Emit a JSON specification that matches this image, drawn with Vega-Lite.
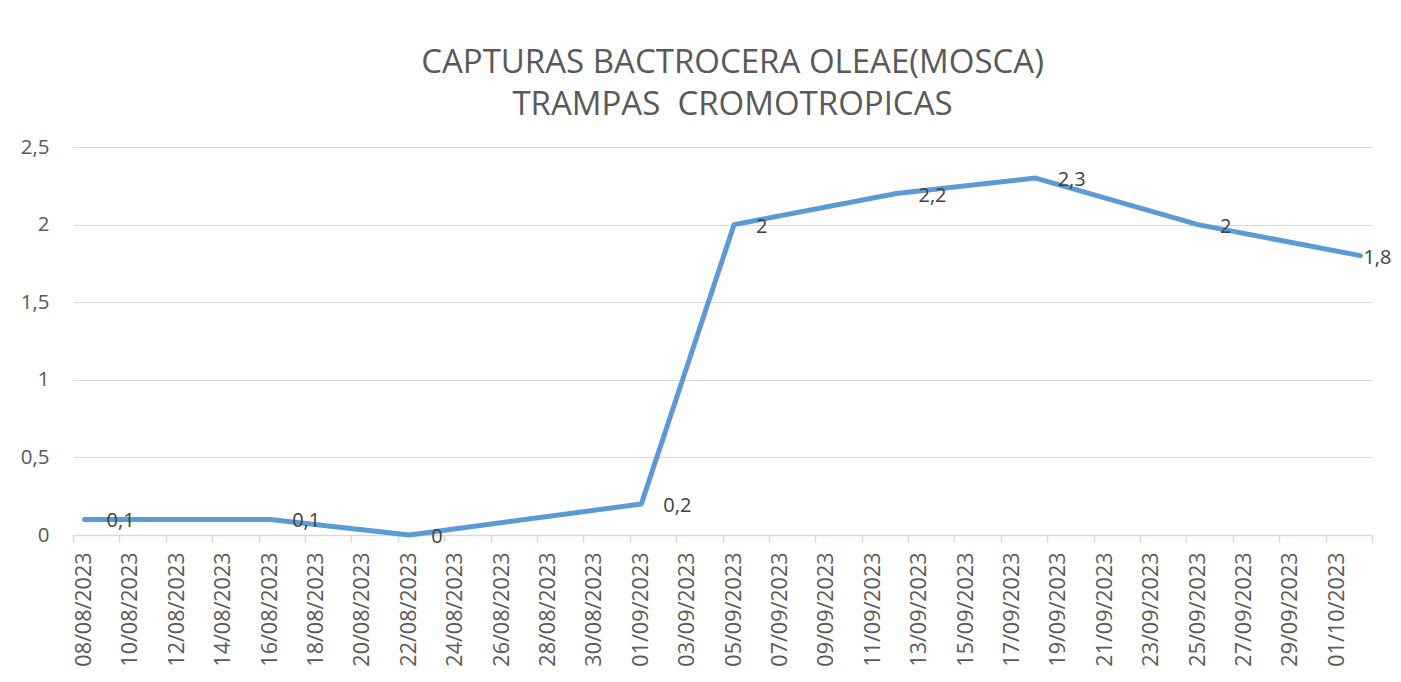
{
  "$schema": "https://vega.github.io/schema/vega-lite/v6.json",
  "autosize": {"type": "none"},
  "padding": {"left": 73, "top": 147, "right": 29, "bottom": 147},
  "width": 1299,
  "height": 388,
  "background": "#ffffff",
  "title": {
    "text": ["CAPTURAS BACTROCERA OLEAE(MOSCA)", "TRAMPAS\u00a0 CROMOTROPICAS"],
    "anchor": "middle",
    "frame": "group",
    "dx": 10,
    "offset": 15,
    "font": "Open Sans",
    "fontSize": 33,
    "fontWeight": "normal",
    "color": "#595959",
    "lineHeight": 42
  },
  "data": {
    "values": [
      {"date": "2023-08-08", "capturas": 0.1},
      {"date": "2023-08-16", "capturas": 0.1},
      {"date": "2023-08-22", "capturas": 0},
      {"date": "2023-09-01", "capturas": 0.2},
      {"date": "2023-09-05", "capturas": 2},
      {"date": "2023-09-12", "capturas": 2.2},
      {"date": "2023-09-18", "capturas": 2.3},
      {"date": "2023-09-25", "capturas": 2},
      {"date": "2023-10-02", "capturas": 1.8}
    ]
  },
  "encoding": {
    "x": {
      "field": "date",
      "type": "temporal",
      "timeUnit": "utcyearmonthdate",
      "bandPosition": 0.5,
      "title": null,
      "scale": {
        "type": "utc",
        "domain": [
          {"year": 2023, "month": 8, "date": 8, "utc": true},
          {"year": 2023, "month": 10, "date": 3, "utc": true}
        ]
      },
      "axis": {
        "values": [
          {"year": 2023, "month": 8, "date": 8, "utc": true},
          {"year": 2023, "month": 8, "date": 10, "utc": true},
          {"year": 2023, "month": 8, "date": 12, "utc": true},
          {"year": 2023, "month": 8, "date": 14, "utc": true},
          {"year": 2023, "month": 8, "date": 16, "utc": true},
          {"year": 2023, "month": 8, "date": 18, "utc": true},
          {"year": 2023, "month": 8, "date": 20, "utc": true},
          {"year": 2023, "month": 8, "date": 22, "utc": true},
          {"year": 2023, "month": 8, "date": 24, "utc": true},
          {"year": 2023, "month": 8, "date": 26, "utc": true},
          {"year": 2023, "month": 8, "date": 28, "utc": true},
          {"year": 2023, "month": 8, "date": 30, "utc": true},
          {"year": 2023, "month": 9, "date": 1, "utc": true},
          {"year": 2023, "month": 9, "date": 3, "utc": true},
          {"year": 2023, "month": 9, "date": 5, "utc": true},
          {"year": 2023, "month": 9, "date": 7, "utc": true},
          {"year": 2023, "month": 9, "date": 9, "utc": true},
          {"year": 2023, "month": 9, "date": 11, "utc": true},
          {"year": 2023, "month": 9, "date": 13, "utc": true},
          {"year": 2023, "month": 9, "date": 15, "utc": true},
          {"year": 2023, "month": 9, "date": 17, "utc": true},
          {"year": 2023, "month": 9, "date": 19, "utc": true},
          {"year": 2023, "month": 9, "date": 21, "utc": true},
          {"year": 2023, "month": 9, "date": 23, "utc": true},
          {"year": 2023, "month": 9, "date": 25, "utc": true},
          {"year": 2023, "month": 9, "date": 27, "utc": true},
          {"year": 2023, "month": 9, "date": 29, "utc": true},
          {"year": 2023, "month": 10, "date": 1, "utc": true},
          {"year": 2023, "month": 10, "date": 3, "utc": true}
        ],
        "labelExpr": "datum.value >= 1696291200000 ? '' : utcFormat(datum.value, '%d/%m/%Y')",
        "labelAngle": 270,
        "labelAlign": "right",
        "labelBaseline": "middle",
        "labelOffset": 11.6,
        "labelPadding": 10,
        "labelFont": "Open Sans",
        "labelFontSize": 21.5,
        "labelColor": "#595959",
        "labelOverlap": false,
        "labelBound": false,
        "labelFlush": false,
        "grid": false,
        "domainColor": "#d9d9d9",
        "domainWidth": 1.5,
        "tickColor": "#d9d9d9",
        "tickWidth": 1.5,
        "tickSize": 7
      }
    },
    "y": {
      "field": "capturas",
      "type": "quantitative",
      "title": null,
      "scale": {"domain": [0, 2.5], "nice": false, "zero": true},
      "axis": {
        "values": [0, 0.5, 1, 1.5, 2, 2.5],
        "format": "~g",
        "labelFont": "Open Sans",
        "labelFontSize": 20.5,
        "labelColor": "#595959",
        "labelPadding": 24,
        "ticks": false,
        "domain": false,
        "grid": true,
        "gridColor": "#d9d9d9",
        "gridWidth": 1.2
      }
    }
  },
  "layer": [
    {
      "mark": {"type": "line", "color": "#5B9BD5", "strokeWidth": 5, "strokeCap": "round", "strokeJoin": "round", "clip": false}
    },
    {
      "transform": [{"filter": "!(utcmonth(datum.date) == 9 && utcdate(datum.date) == 2)"}],
      "mark": {"type": "text", "align": "left", "baseline": "middle", "dx": 22, "dy": 2, "font": "Open Sans", "fontSize": 20, "color": "#404040"},
      "encoding": {"text": {"field": "capturas", "type": "quantitative", "format": "~g"}}
    },
    {
      "transform": [{"filter": "utcmonth(datum.date) == 9 && utcdate(datum.date) == 2"}],
      "mark": {"type": "text", "align": "left", "baseline": "middle", "dx": 3, "dy": 2, "font": "Open Sans", "fontSize": 20, "color": "#404040"},
      "encoding": {"text": {"field": "capturas", "type": "quantitative", "format": "~g"}}
    }
  ],
  "config": {
    "locale": {
      "number": {"decimal": ",", "thousands": ".", "grouping": [3], "currency": ["", " €"]}
    },
    "view": {"stroke": null}
  }
}
